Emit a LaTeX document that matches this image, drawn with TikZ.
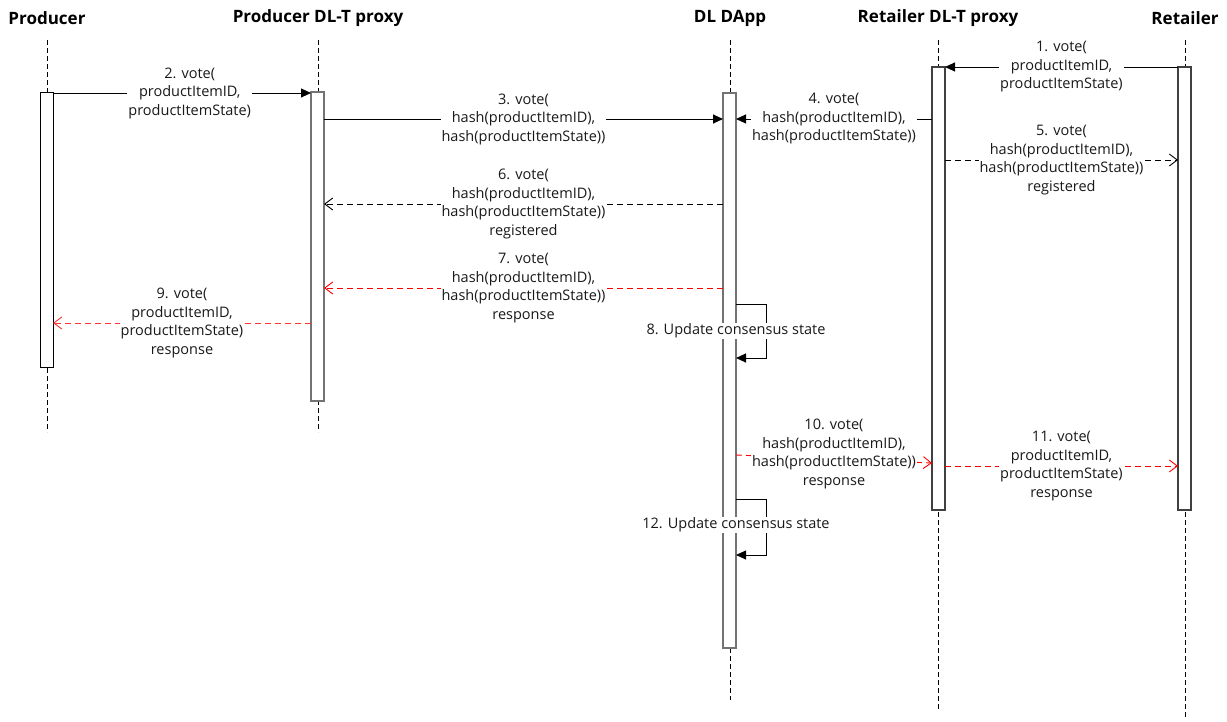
\documentclass[tikz,border=0pt]{standalone}
\usepackage{fontspec}
\setmainfont{Open Sans}
\usetikzlibrary{arrows.meta}

\begin{document}
\begin{tikzpicture}[x=1pt, y=-1pt,
  head/.style={font=\fontsize{17}{19}\selectfont\bfseries, inner sep=0pt},
  lifeline/.style={dash pattern=on 5pt off 3pt, line width=0.9pt},
  act/.style={draw=black!55, line width=1.2pt, fill=white, minimum width=13pt, inner sep=0pt},
  msg/.style={fill=white, align=center, inner sep=1pt, text=black!90, font=\fontsize{14.5}{18.5}\selectfont},
  call/.style={-{Triangle[length=10pt,width=9pt]}, line width=0.9pt},
  reply/.style={-{Straight Barb[length=8pt,width=12pt]}, dash pattern=on 6pt off 4pt, line width=0.9pt},
  ]

\useasboundingbox (0,0) rectangle (1227,722);

% plot the heads and the lifelines
\node[head] (producer_head) at (47,18) {Producer};
\node[head] (pproxy_head) at (318,18) {Producer DL-T proxy};
\node[head] (dapp_head) at (730,18) {DL DApp};
\node[head] (rproxy_head) at (938,18) {Retailer DL-T proxy};
\node[head] (retailer_head) at (1185,18) {Retailer};

\coordinate (producer_top) at (47,40);
\coordinate (producer_end) at (47,432);
\coordinate (pproxy_top) at (318,40);
\coordinate (pproxy_end) at (318,432);
\coordinate (dapp_top) at (730,40);
\coordinate (dapp_end) at (730,700);
\coordinate (rproxy_top) at (938,40);
\coordinate (rproxy_end) at (938,710);
\coordinate (retailer_top) at (1185,40);
\coordinate (retailer_end) at (1185,718);

\draw[lifeline] (producer_top) -- (producer_end);
\draw[lifeline] (pproxy_top) -- (pproxy_end);
\draw[lifeline] (dapp_top) -- (dapp_end);
\draw[lifeline] (rproxy_top) -- (rproxy_end);
\draw[lifeline] (retailer_top) -- (retailer_end);

% plot the activation boxes
\node[act, draw=black, line width=0.9pt, minimum height=275pt] (producer_act) at (46.5,229.5) {};
\node[act, minimum height=309pt] (pproxy_act) at (317.5,246.5) {};
\node[act, minimum height=555pt] (dapp_act) at (729.5,370.5) {};
\node[act, draw=black!75, minimum height=443pt] (rproxy_act) at (938.5,288.5) {};
\node[act, draw=black!75, minimum height=443pt] (retailer_act) at (1184.5,288.5) {};

% the votes
\coordinate (m1_from) at (1178,67);
\coordinate (m1_to) at (945,67);
\draw[call] (m1_from) -- node[msg] {1. vote(\\productItemID,\\productItemState)} (m1_to);

\coordinate (m2_from) at (53,93);
\coordinate (m2_to) at (311,93);
\draw[call] (m2_from) -- node[msg, pos=0.53] {2. vote(\\productItemID,\\productItemState)} (m2_to);

\coordinate (m3_from) at (324,119);
\coordinate (m3_to) at (723,119);
\draw[call] (m3_from) -- node[msg] {3. vote(\\hash(productItemID),\\hash(productItemState))} (m3_to);

\coordinate (m4_from) at (932,119);
\coordinate (m4_to) at (736,119);
\draw[call] (m4_from) -- node[msg] {4. vote(\\hash(productItemID),\\hash(productItemState))} (m4_to);

% registered
\coordinate (m5_from) at (945,160);
\coordinate (m5_to) at (1178,160);
\draw[reply] (m5_from) -- node[msg] {5. vote(\\hash(productItemID),\\hash(productItemState))\\registered} (m5_to);

\coordinate (m6_from) at (723,204);
\coordinate (m6_to) at (324,204);
\draw[reply] (m6_from) -- node[msg] {6. vote(\\hash(productItemID),\\hash(productItemState))\\registered} (m6_to);

% responses
\coordinate (m7_from) at (723,288);
\coordinate (m7_to) at (324,288);
\draw[reply, red] (m7_from) -- node[msg] {7. vote(\\hash(productItemID),\\hash(productItemState))\\response} (m7_to);

\coordinate (m9_from) at (311,323);
\coordinate (m9_to) at (53,323);
\draw[reply, red!80] (m9_from) -- node[msg] {9. vote(\\productItemID,\\productItemState)\\response} (m9_to);

\coordinate (m10_from) at (736,455);
\coordinate (m10_to) at (932,463);
\draw[reply, red] (m10_from) -- node[msg, yshift=5pt] {10. vote(\\hash(productItemID),\\hash(productItemState))\\response} (m10_to);

\coordinate (m11_from) at (945,466);
\coordinate (m11_to) at (1178,466);
\draw[reply, red] (m11_from) -- node[msg] {11. vote(\\productItemID,\\productItemState)\\response} (m11_to);

% self calls on the DApp
\coordinate (loop8_from) at (736,304);
\coordinate (loop8_to) at (736,358);
\draw[call] (loop8_from) -- ++(30,0) |- (loop8_to);
\node[msg] (loop8_label) at (736,331) {8. Update consensus state};

\coordinate (loop12_from) at (736,499);
\coordinate (loop12_to) at (736,555);
\draw[call] (loop12_from) -- ++(30,0) |- (loop12_to);
\node[msg] (loop12_label) at (736,525) {12. Update consensus state};

\end{tikzpicture}
\end{document}
